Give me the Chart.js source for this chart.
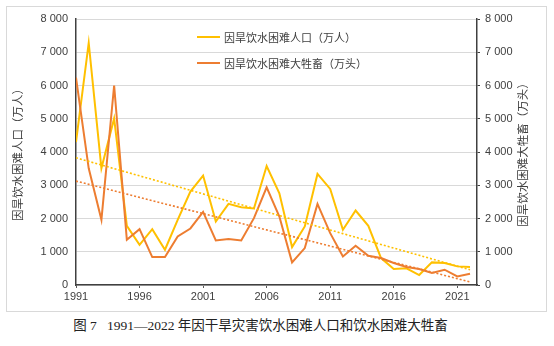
<!DOCTYPE html>
<html lang="zh">
<head>
<meta charset="UTF-8">
<title>因旱饮水困难人口和大牲畜</title>
<script src="https://cdn.jsdelivr.net/npm/chart.js@4.4.1/dist/chart.umd.min.js"></script>
<style>
    body { margin: 0; background: #fff; width: 554px; height: 346px; position: relative; overflow: hidden; }
    #frame { position: absolute; left: 6px; top: 6px; width: 541px; height: 306px; box-sizing: border-box; border: 1px solid #d9d9d9; }
    #box { position: absolute; left: 0; top: 0; width: 554px; height: 312px; }
    #caption { position: absolute; left: 0; top: 314px; width: 521px; text-align: center; font: 13.5px "Liberation Serif", "Noto Sans CJK SC", serif; color: #222; white-space: pre; }
</style>
</head>
<body>
<div id="frame"></div>
<div id="box"><canvas id="chart" width="554" height="312"></canvas></div>
<div id="caption">图 7   1991—2022 年因干旱灾害饮水困难人口和饮水困难大牲畜</div>

<script>
    // 1991-2022
    const years = [];
    for (let y = 1991; y <= 2022; y++) years.push(y);

    // 因旱饮水困难人口（万人）
    const people = [4300, 7280, 3510, 5010, 1780, 1210, 1680, 1060, 1960, 2810,
        3290, 1910, 2440, 2340, 2300, 3580, 2760, 1140, 1760, 3340,
        2890, 1660, 2240, 1780, 810, 480, 500, 300, 680, 660,
        560, 540];

    // 因旱饮水困难大牲畜（万头）
    const livestock = [6240, 3510, 1960, 6000, 1360, 1680, 840, 840, 1460, 1700,
        2200, 1340, 1380, 1340, 2010, 2940, 2060, 680, 1110, 2440,
        1560, 860, 1180, 880, 810, 660, 540, 480, 360, 460,
        260, 340];

    const xTicks = [1991, 1996, 2001, 2006, 2011, 2016, 2021];
    const yTicks = [0, 1000, 2000, 3000, 4000, 5000, 6000, 7000, 8000];

    const labelPeople = '因旱饮水困难人口（万人）';
    const labelLivestock = '因旱饮水困难大牲畜（万头）';

    const yellow = '#FFC000';
    const orange = '#ED7D31';

    // least squares line over the whole period
    function trend(xs, ys) {
        const n = xs.length;
        const mx = xs.reduce((a, b) => a + b, 0) / n;
        const my = ys.reduce((a, b) => a + b, 0) / n;
        let sxy = 0, sxx = 0;
        for (let i = 0; i < n; i++) {
            sxy += (xs[i] - mx) * (ys[i] - my);
            sxx += (xs[i] - mx) * (xs[i] - mx);
        }
        const k = sxy / sxx;
        return xs.map(x => ({ x: x, y: my + k * (x - mx) }));
    }

    const pts = arr => years.map((y, i) => ({ x: y, y: arr[i] }));
    const fmt = v => String(v).replace(/\B(?=(\d{3})+(?!\d))/g, ' ');

    const tickFont = { family: 'Liberation Sans', size: 11 };
    const cjk = '"Noto Sans CJK SC", sans-serif';

    // legend and axis titles drawn by hand
    const extras = {
        id: 'extras',
        afterDraw(chart) {
            const ctx = chart.ctx;
            const area = chart.chartArea;
            const midY = (area.top + area.bottom) / 2;
            ctx.save();
            ctx.fillStyle = '#404040';
            ctx.font = '11.5px ' + cjk;
            ctx.textAlign = 'center';
            ctx.textBaseline = 'middle';
            [[18, labelPeople], [523, labelLivestock]].forEach(t => {
                ctx.save();
                ctx.translate(t[0], midY);
                ctx.rotate(-Math.PI / 2);
                ctx.fillText(t[1], 0, 0);
                ctx.restore();
            });

            const items = [[labelPeople, yellow, 37], [labelLivestock, orange, 63]];
            ctx.textAlign = 'left';
            ctx.font = '11px ' + cjk;
            items.forEach(it => {
                ctx.strokeStyle = it[1];
                ctx.lineWidth = 2;
                ctx.beginPath();
                ctx.moveTo(197, it[2]);
                ctx.lineTo(220, it[2]);
                ctx.stroke();
                ctx.fillText(it[0], 224, it[2] + 0.5);
            });
            ctx.restore();
        }
    };

    new Chart(document.getElementById('chart'), {
        type: 'line',
        data: {
            datasets: [
                { label: labelPeople, data: pts(people), borderColor: yellow, borderWidth: 2, yAxisID: 'y', order: 2 },
                { label: labelLivestock, data: pts(livestock), borderColor: orange, borderWidth: 2, yAxisID: 'y', order: 1 },
                { label: 'trend1', data: trend(years, people), borderColor: yellow, borderWidth: 1.6, borderDash: [2, 2], yAxisID: 'y', order: 0 },
                { label: 'trend2', data: trend(years, livestock), borderColor: orange, borderWidth: 1.6, borderDash: [2, 2], yAxisID: 'y', order: 0 }
            ]
        },
        options: {
            responsive: false,
            animation: false,
            events: [],
            elements: { point: { radius: 0 }, line: { tension: 0, fill: false } },
            layout: { padding: { top: 19, left: 0, right: 0, bottom: 0 } },
            plugins: { legend: { display: false }, tooltip: { enabled: false } },
            scales: {
                x: {
                    type: 'linear',
                    min: 1991,
                    max: 2022.55,
                    afterBuildTicks: s => { s.ticks = xTicks.map(v => ({ value: v })); },
                    afterFit: s => { s.height = 27; },
                    grid: { drawOnChartArea: false, drawTicks: true, tickLength: 3, color: '#595959' },
                    border: { color: '#404040', width: 1.5 },
                    ticks: { font: tickFont, color: '#404040', padding: 2, maxRotation: 0, callback: v => String(v) }
                },
                y: {
                    position: 'left',
                    min: 0,
                    max: 8000,
                    afterBuildTicks: s => { s.ticks = yTicks.map(v => ({ value: v })); },
                    afterFit: s => { s.width = 76; },
                    grid: { color: '#d9d9d9', drawTicks: false },
                    border: { color: '#404040', width: 1.5 },
                    ticks: { font: tickFont, color: '#404040', padding: 8, callback: v => fmt(v) }
                },
                y2: {
                    position: 'right',
                    min: 0,
                    max: 8000,
                    afterBuildTicks: s => { s.ticks = yTicks.map(v => ({ value: v })); },
                    afterFit: s => { s.width = 77; },
                    grid: { drawOnChartArea: false, drawTicks: true, tickLength: 3, color: '#404040' },
                    border: { color: '#404040', width: 1.5 },
                    ticks: { font: tickFont, color: '#404040', padding: 5, callback: v => fmt(v) }
                }
            }
        },
        plugins: [extras]
    });
</script>
</body>
</html>
